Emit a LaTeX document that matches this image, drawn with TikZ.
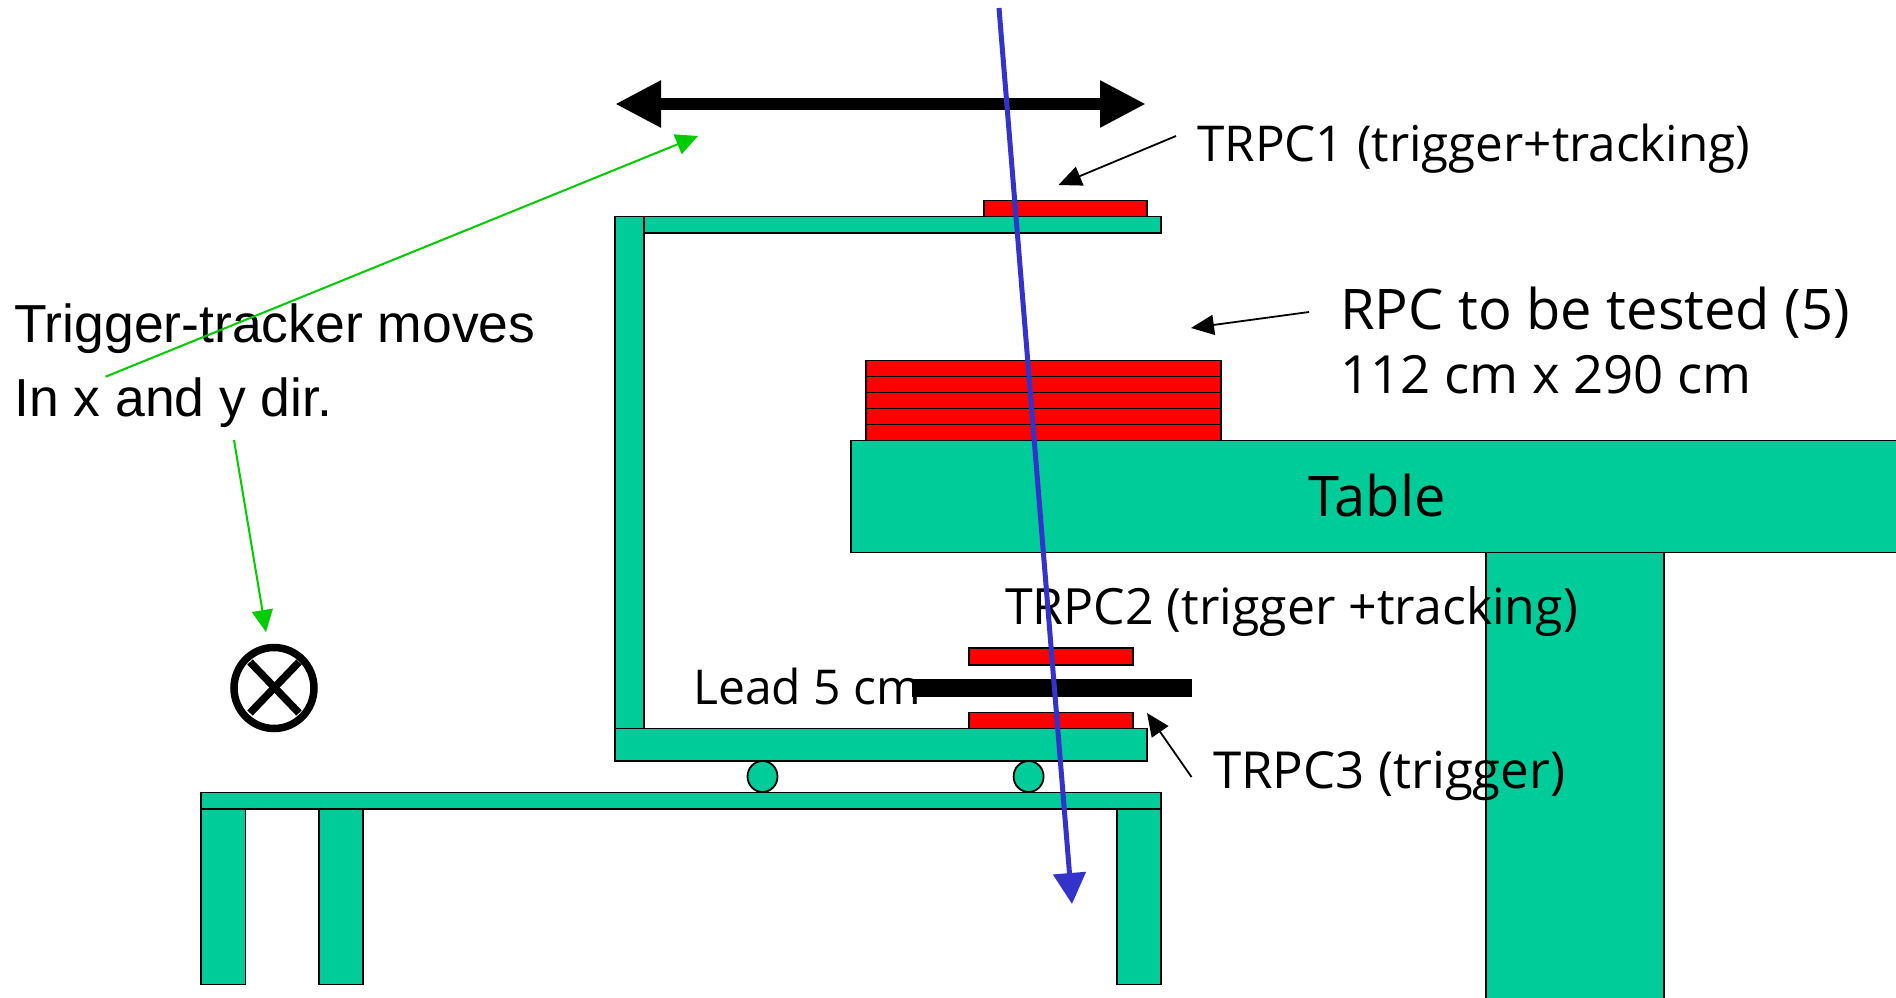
\documentclass[tikz,border=0pt]{standalone}
\usepackage{fontspec}
\setmainfont{Liberation Sans}
\newfontfamily\handfont{Open Sans}
\usetikzlibrary{arrows.meta}
\definecolor{frame}{HTML}{00CC99}
\definecolor{rpcred}{HTML}{FF0000}
\definecolor{beam}{HTML}{3333CC}
\definecolor{note}{HTML}{00CC00}
\tikzset{
  part/.style={draw=black,line width=1.8pt,fill=frame},
  rpc/.style={draw=black,line width=1.8pt,fill=rpcred},
  hand/.style={font=\handfont\fontsize{#1}{#1}\selectfont,inner sep=0pt,anchor=base west},
  plain/.style={font=\fontsize{53.5}{53.5}\selectfont,inner sep=0pt,anchor=base west},
  blackptr/.style={draw=black,line width=1.8pt,-{Triangle[length=23pt,width=20pt]}},
  greenptr/.style={draw=note,line width=2pt,-{Triangle[length=22pt,width=21pt]}},
  beamarrow/.style={draw=beam,line width=5pt,-{Triangle[length=31pt,width=32pt]}},
  movearrow/.style={draw=black,line width=12pt,{Triangle[length=46pt,width=44pt]}-{Triangle[length=46pt,width=44pt]}}
}
\begin{document}
\begin{tikzpicture}[x=1pt,y=-1pt]
\useasboundingbox (0,0) rectangle (1896,998);
\clip (0,0) rectangle (1896,998);
% post and table
\draw[part] (1486,552.5) rectangle (1664,1004);
\draw[part] (851,440.5) rectangle (1904,552.5);
% RPC stack
\foreach \t/\b in {360.5/376.5,376.5/392.5,392.5/408.5,408.5/424.5,424.5/440.5}
  \draw[rpc] (866,\t) rectangle (1221,\b);
% carriage
\draw[part] (201,792.5) rectangle (1161,809);
\draw[part] (201,809) rectangle (245.5,984.5);
\draw[part] (319,809) rectangle (363,984.5);
\draw[part] (1117,809) rectangle (1161,984.5);
\draw[part] (762.5,776.5) ellipse (15 and 15.5);
\draw[part] (1028.6,776.5) ellipse (15 and 15.5);
\draw[part] (615,728.5) rectangle (1147,761);
\draw[part] (615,216.5) rectangle (1161,233);
\draw[part] (615,216.5) rectangle (644,728.5);
% detectors
\draw[rpc] (984,200.5) rectangle (1147,216.5);
\draw[rpc] (969,648) rectangle (1132.6,665);
\draw[rpc] (969,712.5) rectangle (1132.6,728.5);
\fill[black] (912,679) rectangle (1192,697);
% movement symbol
\draw[black,line width=7.5pt] (274,688) ellipse (40 and 40.5);
\draw[black,line width=7.5pt] (250,662) -- (299,713);
\draw[black,line width=7.5pt] (299,662) -- (250,713);
% labels
\node[plain] (moves) at (14,342) {Trigger-tracker moves};
\node[plain] (dir) at (14,416) {In x and y dir.};
\node[hand=49.4] (t1) at (1197,161) {TRPC1 (trigger+tracking)};
\node[hand=56] (rpc) at (1340,329) {RPC to be tested (5)};
\node[hand=52.7] (size) at (1340,393) {112 cm x 290 cm};
\node[hand=56] (table) at (1308,516) {Table};
\node[hand=50] (t2) at (1005,624) {TRPC2 (trigger +tracking)};
\node[hand=48] (lead) at (693,704) {Lead 5 cm};
\node[hand=51] (t3) at (1213,788) {TRPC3 (trigger)};
% free ends
\coordinate (moveL) at (615,104);
\coordinate (moveR) at (1146,104);
\coordinate (beamS) at (999,8);
\coordinate (beamE) at (1072,904);
\coordinate (g1s) at (105.6,376.7);
\coordinate (g1e) at (698,136);
\coordinate (g2s) at (234,440);
\coordinate (g2e) at (266,632);
\coordinate (p1s) at (1176,136);
\coordinate (p1e) at (1058.5,185);
\coordinate (p2s) at (1309,312);
\coordinate (p2e) at (1191,328);
\coordinate (p3s) at (1191.5,777);
\coordinate (p3e) at (1147,713);
% connectors
\draw[movearrow] (moveL) -- (moveR);
\draw[greenptr] (g1s) -- (g1e);
\draw[greenptr] (g2s) -- (g2e);
\draw[blackptr] (p1s) -- (p1e);
\draw[blackptr] (p2s) -- (p2e);
\draw[blackptr] (p3s) -- (p3e);
\draw[beamarrow] (beamS) -- (beamE);
\end{tikzpicture}
\end{document}
